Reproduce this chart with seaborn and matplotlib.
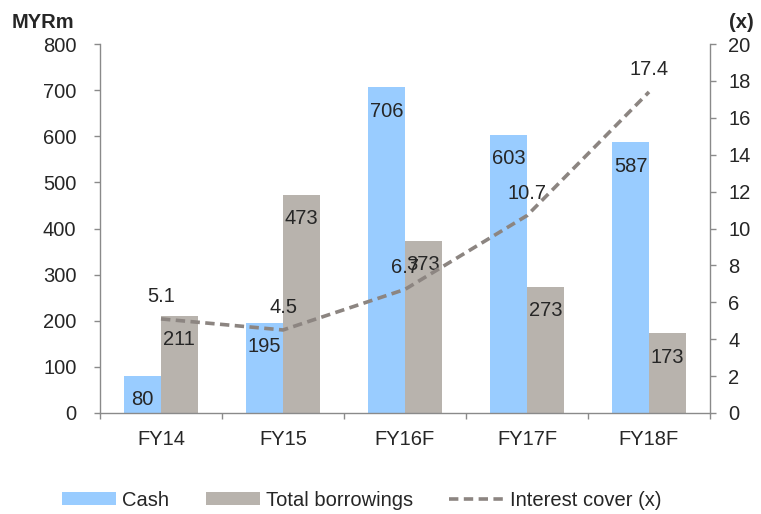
import numpy as np
import pandas as pd
import matplotlib.pyplot as plt
from matplotlib.ticker import FixedLocator
import seaborn as sns

# --- DATA ---
years = ["FY14", "FY15", "FY16F", "FY17F", "FY18F"]
cash = [80, 195, 706, 603, 587]
borrowings = [211, 473, 373, 273, 173]
interest_cover = [5.1, 4.5, 6.7, 10.7, 17.4]

CASH_COLOR = "#99CCFF"
BORROW_COLOR = "#B8B3AD"
LINE_COLOR = "#8C8581"
AXIS_COLOR = "#8A8A8A"

sns.set_style("white")
plt.rcParams["font.family"] = ["Liberation Sans", "DejaVu Sans"]
FS = 14.5

df = pd.DataFrame({
    "year": years * 2,
    "value": cash + borrowings,
    "series": ["Cash"] * len(years) + ["Total borrowings"] * len(years),
})

fig = plt.figure(figsize=(7.61, 5.14), dpi=100)
ax = fig.add_axes([100 / 761, 1 - 413 / 514, 610 / 761, 369 / 514])

sns.barplot(data=df, x="year", y="value", hue="series",
            palette=[CASH_COLOR, BORROW_COLOR], width=0.6, saturation=1,
            edgecolor="none", linewidth=0, ax=ax)
ax.get_legend().remove()

# value labels inside the top of each bar
for cont in ax.containers:
    ax.bar_label(cont, fmt="%d", padding=-24, fontsize=FS)

ax.set_ylim(0, 800)
ax.set_xlim(-0.5, 4.5)
ax.set_yticks(range(0, 801, 100))
ax.set_xlabel("")
ax.set_ylabel("")

# secondary axis: interest cover
ax2 = ax.twinx()
xs = np.arange(len(years))
sns.lineplot(x=xs, y=interest_cover, ax=ax2, color=LINE_COLOR, linewidth=2.6,
             linestyle=(0, (2.6, 1.5)), label="Interest cover (x)")
ax2.get_legend().remove()
for x, v in zip(xs, interest_cover):
    ax2.annotate(f"{v:.1f}", (x, v), xytext=(0, 16), textcoords="offset points",
                 ha="center", va="center", fontsize=FS)
ax2.set_ylim(0, 20)
ax2.set_yticks(range(0, 21, 2))
ax2.set_xlim(-0.5, 4.5)

# axes styling
for a in (ax, ax2):
    for s in a.spines.values():
        s.set_visible(False)
ax.spines["left"].set_visible(True)
ax.spines["bottom"].set_visible(True)
ax2.spines["right"].set_visible(True)
for s in (ax.spines["left"], ax.spines["bottom"], ax2.spines["right"]):
    s.set_color(AXIS_COLOR)
    s.set_linewidth(1.0)

ax.tick_params(axis="y", left=True, direction="out", length=4, width=1,
               color=AXIS_COLOR, pad=13, labelsize=FS)
ax2.tick_params(axis="y", right=True, direction="out", length=4, width=1,
                color=AXIS_COLOR, pad=9, labelsize=FS)
ax.tick_params(axis="x", which="major", length=0, pad=12, labelsize=FS)
ax.xaxis.set_minor_locator(FixedLocator(np.arange(-0.5, 5, 1.0)))
ax.tick_params(axis="x", which="minor", bottom=True, direction="out",
               length=4, width=1, color=AXIS_COLOR)

fig.text(12 / 761, 1 - 22 / 514, "MYRm", fontsize=FS, fontweight="bold",
         va="center", ha="left")
fig.text(754 / 761, 1 - 22 / 514, "(x)", fontsize=FS, fontweight="bold",
         va="center", ha="right")

h_bar = [c.patches[0] for c in ax.containers]
h_line = ax2.get_lines()[0]
fig.legend(h_bar + [h_line], ["Cash", "Total borrowings", "Interest cover (x)"],
           loc="center left", bbox_to_anchor=(62 / 761, 1 - 500 / 514),
           ncol=3, frameon=False, fontsize=FS, borderpad=0, borderaxespad=0,
           handlelength=2.7, handleheight=0.6, handletextpad=0.3,
           columnspacing=1.8)

fig.savefig("out.png", dpi=100)
